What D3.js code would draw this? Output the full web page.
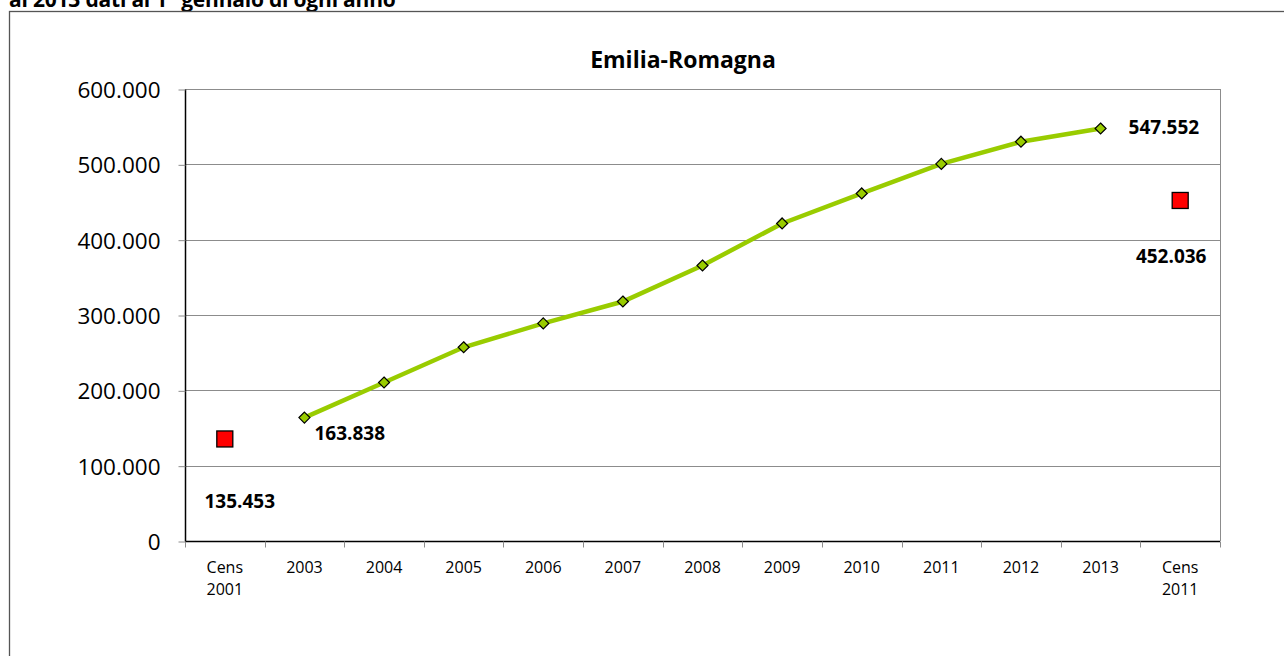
<!DOCTYPE html>
<html><head><meta charset="utf-8">
<script src="https://cdn.jsdelivr.net/npm/d3@7"></script>
<style>body{margin:0;background:#fff}svg{display:block}</style>
</head><body><svg id="c" width="1284" height="656"></svg>
<script>
const categories = ["Cens 2001","2003","2004","2005","2006","2007","2008","2009","2010","2011","2012","2013","Cens 2011"];
const yearCats = ["2003","2004","2005","2006","2007","2008","2009","2010","2011","2012","2013"];
const yearValues = [163838,210397,257161,288844,317888,365687,421509,461321,500597,530015,547552];
const censusCats = ["Cens 2001","Cens 2011"];
const censusValues = [135453,452036];
const yTicks = [0,100000,200000,300000,400000,500000,600000];
const title = "Emilia-Romagna";
const pageHeading = "al 2013 dati al 1° gennaio di ogni anno";

const font = "'Open Sans', sans-serif";
const svg = d3.select("#c");
const L=185,R=1220,T=89,B=541;
const x = d3.scaleBand().domain(categories).range([L,R]);
const y = d3.scaleLinear().domain([0,600000]).range([B,T]);
const fmt = v => d3.format(",")(v).replace(/,/g,".");

svg.append("text").attr("x",9).attr("y",7).attr("font-family",font).attr("font-weight","bold")
  .attr("font-size",21).attr("letter-spacing",-0.2).text(pageHeading);
svg.append("rect").attr("x",9.5).attr("y",11.5).attr("width",1290).attr("height",700)
  .attr("fill","none").attr("stroke","#555").attr("stroke-width",1.3);

// gridlines
svg.append("g").selectAll("line").data(yTicks.filter(d=>d>0)).join("line")
  .attr("x1",L).attr("x2",R).attr("y1",d=>Math.round(y(d))+0.5).attr("y2",d=>Math.round(y(d))+0.5)
  .attr("stroke","#8c8c8c").attr("stroke-width",1);
svg.append("line").attr("x1",R+0.5).attr("x2",R+0.5).attr("y1",T).attr("y2",B).attr("stroke","#8c8c8c");

// y axis
const ya = svg.append("g").attr("transform",`translate(${L+0.5},0.5)`)
  .call(d3.axisLeft(y).tickValues(yTicks).tickFormat(fmt).tickSize(7).tickPadding(18));
ya.select(".domain").attr("stroke","#000").attr("stroke-width",1.5).attr("d",`M0,${T}V${B}`);
ya.selectAll(".tick line").attr("stroke","#8c8c8c");
ya.selectAll("text").attr("font-family",font).attr("font-size",22.5).attr("fill","#000").attr("dy","0.36em");

// x axis
const xa = svg.append("g").attr("transform",`translate(0,${B+0.5})`);
xa.append("line").attr("x1",L).attr("x2",R).attr("stroke","#000").attr("stroke-width",1.5);
const bounds = categories.map(c=>x(c)).concat([R]);
xa.selectAll("line.t").data(bounds).join("line").attr("class","t")
  .attr("x1",d=>Math.round(d)+0.5).attr("x2",d=>Math.round(d)+0.5).attr("y1",0).attr("y2",6)
  .attr("stroke","#8c8c8c");
const xt = xa.selectAll("text").data(categories).join("text")
  .attr("x",d=>x(d)+x.bandwidth()/2).attr("y",31).attr("text-anchor","middle")
  .attr("font-family",font).attr("font-size",16).attr("fill","#000");
xt.each(function(d){
  const parts = d.split(" ");
  const t = d3.select(this);
  parts.forEach((p,i)=>t.append("tspan").attr("x",x(d)+x.bandwidth()/2).attr("dy",i?22:0).text(p));
});

// title
svg.append("text").attr("x",683).attr("y",68).attr("text-anchor","middle").attr("font-family",font)
  .attr("font-weight","bold").attr("font-size",23).text(title);

// line
const cx = c=>x(c)+x.bandwidth()/2;
const pts = yearCats.map((c,i)=>[cx(c),y(yearValues[i])]);
svg.append("path").attr("d",d3.line()(pts)).attr("fill","none").attr("stroke","#99cc00").attr("stroke-width",4.5);
svg.append("g").selectAll("path").data(pts).join("path")
  .attr("d",d=>`M${d[0]},${d[1]-5.5}L${d[0]+5.5},${d[1]}L${d[0]},${d[1]+5.5}L${d[0]-5.5},${d[1]}Z`)
  .attr("fill","#99cc00").attr("stroke","#000").attr("stroke-width",1.2);

// census squares
svg.append("g").selectAll("rect").data(censusCats).join("rect")
  .attr("x",(c)=>cx(c)-8).attr("y",(c,i)=>y(censusValues[i])-8).attr("width",16).attr("height",16)
  .attr("fill","#ff0000").attr("stroke","#000").attr("stroke-width",1.3);

// labels
const lab = (xx,yy,v,anchor)=>svg.append("text").attr("x",xx).attr("y",yy).attr("text-anchor",anchor||"middle")
  .attr("font-family",font).attr("font-weight","bold").attr("font-size",19).text(fmt(v));
lab(cx("2003")+10,y(yearValues[0])+22,yearValues[0],"start");
lab(cx("Cens 2001")+15,y(censusValues[0])+69,censusValues[0]);
lab(cx("2013")+28,y(yearValues[10])+5,yearValues[10],"start");
lab(cx("Cens 2011")-9,y(censusValues[1])+63,censusValues[1]);
</script></body></html>
